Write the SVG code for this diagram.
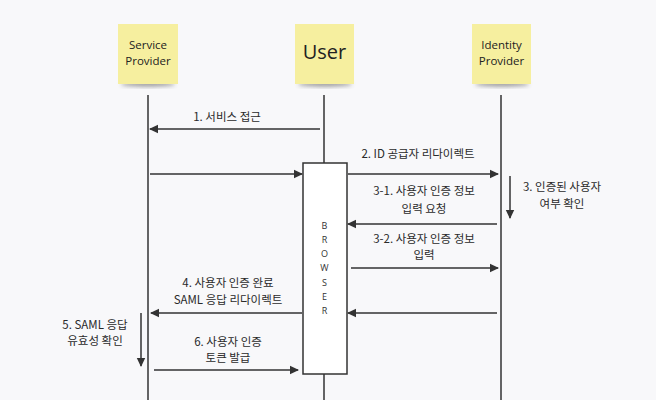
<svg xmlns="http://www.w3.org/2000/svg" width="656" height="400" viewBox="0 0 656 400">
<defs>
<marker id="ah" markerWidth="10" markerHeight="10" refX="8" refY="5" orient="auto" markerUnits="userSpaceOnUse">
<path d="M0,0.8 L9,5 L0,9.2 Z" fill="#333"/>
</marker>
<filter id="sh" x="-20%" y="-20%" width="140%" height="160%">
<feGaussianBlur stdDeviation="2"/>
</filter>
</defs>
<style>
.note{fill:#f6ef9f}
.shadow{fill:#555;opacity:0.6}
.nt{font-family:"Open Sans","Noto Sans","Noto Sans CJK KR",sans-serif;fill:#222;text-anchor:middle}
.lbl{font-family:"Noto Sans CJK KR","Noto Sans",sans-serif;font-size:11.5px;fill:#2a2a2a;text-anchor:middle}
.life{stroke:#333;stroke-width:1.5;fill:none}
.msg{stroke:#333;stroke-width:1.5;fill:none;marker-end:url(#ah)}
.br{font-family:"Open Sans","Noto Sans",sans-serif;font-size:9px;fill:#333;text-anchor:middle}
</style>
<rect width="656" height="400" fill="#f8f8fa"/>
<g id="lifelines">
<line class="life" x1="148" y1="95" x2="148" y2="400"/>
<line class="life" x1="324" y1="95" x2="324" y2="163"/>
<line class="life" x1="324" y1="374" x2="324" y2="400"/>
<line class="life" x1="501" y1="95" x2="501" y2="400"/>
</g>
<g id="service-provider">
<ellipse class="shadow" cx="148" cy="84" rx="27" ry="2.5" filter="url(#sh)"/>
<rect class="note" x="118" y="24" width="60" height="60"/>
<text class="nt" x="148" y="49" font-size="11.5">Service</text>
<text class="nt" x="148" y="65" font-size="11.5">Provider</text>
</g>
<g id="user">
<ellipse class="shadow" cx="325" cy="84" rx="27" ry="2.5" filter="url(#sh)"/>
<rect class="note" x="295" y="24" width="59" height="60"/>
<text class="nt" x="324.5" y="59" font-size="20">User</text>
</g>
<g id="identity-provider">
<ellipse class="shadow" cx="502" cy="84" rx="27" ry="2.5" filter="url(#sh)"/>
<rect class="note" x="472" y="24" width="59" height="60"/>
<text class="nt" x="501.5" y="49" font-size="11.5">Identity</text>
<text class="nt" x="501.5" y="65" font-size="11.5">Provider</text>
</g>
<g id="browser">
<rect x="303" y="163" width="44" height="211" fill="#fff" stroke="#333" stroke-width="1.5"/>
<text class="br" x="324.5" y="229">B</text>
<text class="br" x="324.5" y="243">R</text>
<text class="br" x="324.5" y="257">O</text>
<text class="br" x="324.5" y="271">W</text>
<text class="br" x="324.5" y="286">S</text>
<text class="br" x="324.5" y="300">E</text>
<text class="br" x="324.5" y="314">R</text>
</g>
<g id="connectors">
<line class="msg" x1="320" y1="129" x2="150" y2="129"/>
<line class="msg" x1="150" y1="174" x2="302" y2="174"/>
<line class="msg" x1="348" y1="174" x2="498" y2="174"/>
<line class="msg" x1="510" y1="176" x2="510" y2="218"/>
<line class="msg" x1="497" y1="224" x2="348" y2="224"/>
<line class="msg" x1="351" y1="268" x2="498" y2="268"/>
<line class="msg" x1="497" y1="313" x2="348" y2="313"/>
<line class="msg" x1="302" y1="313" x2="151" y2="313"/>
<line class="msg" x1="141" y1="313" x2="141" y2="366"/>
<line class="msg" x1="154" y1="370" x2="298" y2="370"/>
</g>
<g id="labels">
<text class="lbl" x="227" y="121">1. 서비스 접근</text>
<text class="lbl" x="418" y="158">2. ID 공급자 리다이렉트</text>
<text class="lbl" x="562" y="191">3. 인증된 사용자</text>
<text class="lbl" x="562" y="208">여부 확인</text>
<text class="lbl" x="424" y="195">3-1. 사용자 인증 정보</text>
<text class="lbl" x="424" y="213">입력 요청</text>
<text class="lbl" x="424" y="243">3-2. 사용자 인증 정보</text>
<text class="lbl" x="424" y="259">입력</text>
<text class="lbl" x="228" y="287">4. 사용자 인증 완료</text>
<text class="lbl" x="228" y="304">SAML 응답 리다이렉트</text>
<text class="lbl" x="95" y="329">5. SAML 응답</text>
<text class="lbl" x="95" y="345">유효성 확인</text>
<text class="lbl" x="228" y="346">6. 사용자 인증</text>
<text class="lbl" x="228" y="362">토큰 발급</text>
</g>
</svg>
